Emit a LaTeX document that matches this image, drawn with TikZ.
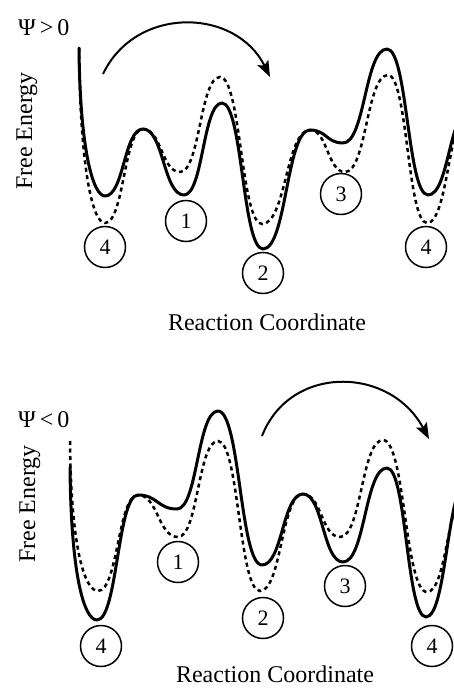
\documentclass[tikz,border=0pt]{standalone}
\usepackage{fontspec}
\setmainfont{Liberation Serif}
\usetikzlibrary{arrows.meta}
\begin{document}
\begin{tikzpicture}[x=1pt,y=-1pt,
  solidcurve/.style={line width=3pt, line join=round, line cap=round},
  dashcurve/.style={line width=2.5pt, dash pattern=on 4pt off 3.5pt},
  well/.style={circle, draw, line width=1.5pt, minimum size=41pt, inner sep=0pt, font=\fontsize{22}{24}\selectfont},
  lbl/.style={font=\fontsize{24}{28}\selectfont, inner sep=0pt},
  jump/.style={line width=2pt, -{Stealth[length=16pt,width=12pt,inset=3pt]}}
]
\fill[white] (0,0) rectangle (454,688);
\useasboundingbox (0,0) rectangle (454,688);
\begin{scope}
\clip (0,0) rectangle (454,688);
% ---------- top panel ----------
\draw[dashcurve] (79,48) .. controls (80,165) and (92,223) .. (105,223)
 .. controls (124,223) and (124,129) .. (143,129)
 .. controls (161.5,129) and (161.5,172) .. (180,172)
 .. controls (200,172) and (200,77) .. (220,77)
 .. controls (241,77) and (241,224) .. (262,224)
 .. controls (286,224) and (286,130) .. (310,130)
 .. controls (327.5,130) and (327.5,172) .. (345,172)
 .. controls (366.5,172) and (366.5,75) .. (388,75)
 .. controls (407.5,75) and (407.5,223) .. (427,223)
 .. controls (448.5,223) and (448.5,110) .. (470,110);
\draw[solidcurve] (79,48) .. controls (80,150) and (93,196) .. (105,196)
 .. controls (124,196) and (124,129) .. (143,129)
 .. controls (163.5,129) and (163.5,195) .. (184,195)
 .. controls (203,195) and (203,103) .. (222,103)
 .. controls (242.5,103) and (242.5,249) .. (263,249)
 .. controls (286.5,249) and (286.5,130) .. (310,130)
 .. controls (326.5,130) and (326.5,143) .. (343,143)
 .. controls (365,143) and (365,49) .. (387,49)
 .. controls (407.5,49) and (407.5,195) .. (428,195)
 .. controls (449,195) and (449,110) .. (470,110);
% ---------- bottom panel ----------
\draw[dashcurve] (70,441) .. controls (71,550) and (85,591) .. (98,591)
 .. controls (118,591) and (118,495) .. (138,495)
 .. controls (158,495) and (158,537) .. (178,537)
 .. controls (198,537) and (198,441) .. (218,441)
 .. controls (239,441) and (239,591) .. (260,591)
 .. controls (281.5,591) and (281.5,494) .. (303,494)
 .. controls (321.5,494) and (321.5,537) .. (340,537)
 .. controls (361.5,537) and (361.5,440) .. (383,440)
 .. controls (405,440) and (405,592) .. (427,592)
 .. controls (447.5,592) and (447.5,490) .. (468,490);
\draw[solidcurve] (70,467) .. controls (71,575) and (84,620) .. (97,620)
 .. controls (117.5,620) and (117.5,495) .. (138,495)
 .. controls (157.5,495) and (157.5,509) .. (177,509)
 .. controls (197.5,509) and (197.5,411) .. (218,411)
 .. controls (240,411) and (240,565) .. (262,565)
 .. controls (282.5,565) and (282.5,494) .. (303,494)
 .. controls (323,494) and (323,562) .. (343,562)
 .. controls (365,562) and (365,468) .. (387,468)
 .. controls (406.5,468) and (406.5,617) .. (426,617)
 .. controls (447,617) and (447,480) .. (468,480);
\end{scope}
% wells (top)
\node[well] (t4a) at (105,247) {4};
\node[well] (t1) at (186,221) {1};
\node[well] (t2) at (263,273) {2};
\node[well] (t3) at (341,194) {3};
\node[well] (t4b) at (426,247) {4};
% wells (bottom)
\node[well] (b4a) at (101,646) {4};
\node[well] (b1) at (178,562) {1};
\node[well] (b2) at (263,618) {2};
\node[well] (b3) at (345,586) {3};
\node[well] (b4b) at (432,646) {4};
% arrows
\coordinate (a1s) at (103,74);
\coordinate (a1e) at (270,77);
\draw[jump] (a1s) .. controls (136,5) and (236,8) .. (a1e);
\coordinate (a2s) at (262,436);
\coordinate (a2e) at (429,439);
\draw[jump] (a2s) .. controls (290,364) and (390,366) .. (a2e);
% labels
\node[lbl, anchor=base west] (psi1) at (18,35) {Ψ\,>\,0};
\node[lbl, anchor=base west] (psi2) at (18,427) {Ψ\,<\,0};
\node[lbl, anchor=base, rotate=90] (fe1) at (32,131) {Free Energy};
\node[lbl, anchor=base, rotate=90] (fe2) at (35,504) {Free Energy};
\node[lbl, anchor=base] (rc1) at (267,330) {Reaction Coordinate};
\node[lbl, anchor=base] (rc2) at (275,682) {Reaction Coordinate};
\end{tikzpicture}
\end{document}
